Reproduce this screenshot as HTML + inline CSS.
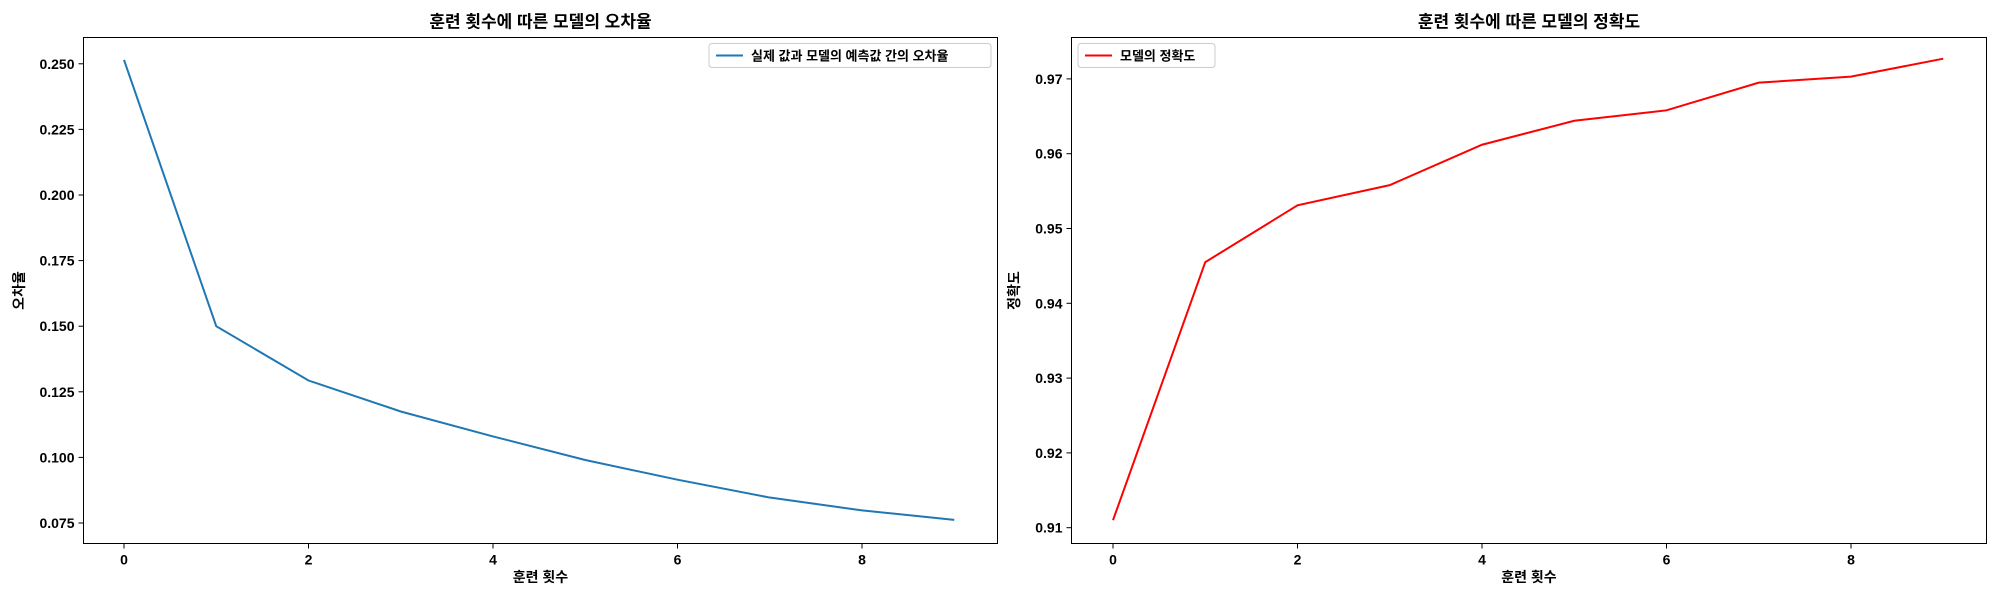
<!DOCTYPE html>
<html><head><meta charset="utf-8">
<style>
body{margin:0;background:#fff;}
svg{display:block;font-family:"Liberation Sans","Noto Sans CJK KR",sans-serif;font-weight:bold;}
</style></head>
<body>
<svg id="chart" width="2000" height="600" viewBox="0 0 2000 600"></svg>
<script>
const epochs = [0,1,2,3,4,5,6,7,8,9];
const lossValues = [0.2515,0.1500,0.1293,0.1175,0.1080,0.0990,0.0915,0.0847,0.0798,0.0762];
const accValues = [0.911,0.9455,0.9531,0.9558,0.9612,0.9644,0.9658,0.9695,0.9703,0.9727];
const xTicks = [0,2,4,6,8];
const lossTicks = [0.075,0.100,0.125,0.150,0.175,0.200,0.225,0.250];
const accTicks = [0.91,0.92,0.93,0.94,0.95,0.96,0.97];

const NS="http://www.w3.org/2000/svg";
const svg=document.getElementById('chart');
function el(tag,attrs,parent){const e=document.createElementNS(NS,tag);for(const k in attrs)e.setAttribute(k,attrs[k]);(parent||svg).appendChild(e);return e;}

function panel(cfg){
  const g=el('g',{});
  
  
  const {L,R,T,B}=cfg;
  const xs=v=>cfg.x0px+(v-0)*cfg.xUnit;
  const ys=v=>cfg.y0px-(v-cfg.y0)*cfg.yUnit;
  // ticks
  xTicks.forEach(t=>{
    const tl=el('line',{x1:xs(t),x2:xs(t),y1:B,y2:B+5,stroke:'#000','stroke-width':1},g);
    
    
    const tx=el('text',{x:xs(t),y:B+21,'font-size':14,'text-anchor':'middle'},g);
    tx.textContent=t;
    
    
  });
  cfg.yTicks.forEach(t=>{
    const tl=el('line',{x1:L-5,x2:L,y1:ys(t),y2:ys(t),stroke:'#000','stroke-width':1},g);
    
    
    const tx=el('text',{x:L-9,y:ys(t)+5,'font-size':14,'text-anchor':'end'},g);
    tx.textContent=t.toFixed(cfg.dec);
    
    
  });
  // line
  const pts=epochs.map((e,i)=>xs(e)+','+ys(cfg.values[i])).join(' ');
  const pl=el('polyline',{points:pts,fill:'none',stroke:cfg.color,'stroke-width':2},g);
  
  
  const fr=el('rect',{x:L,y:T,width:R-L,height:B-T,fill:'none',stroke:'#000','stroke-width':1},g);
  
  
  const ti=el('text',{x:(L+R)/2,y:T-10,'font-size':17,'text-anchor':'middle'},g);
  ti.textContent=cfg.title;
  
  
  const xl=el('text',{x:(L+R)/2,y:582,'font-size':14,'text-anchor':'middle'},g);
  xl.textContent='훈련 횟수';
  
  
  const yl=el('text',{x:0,y:0,'font-size':14,'text-anchor':'middle',transform:`translate(${cfg.ylx},${(T+B)/2}) rotate(-90)`},g);
  yl.textContent=cfg.ylabel;
  
  
  // legend
  const lg=el('g',{},g);
  
  
  el('rect',{x:cfg.lgX,y:T+6,width:cfg.lgW,height:24,rx:3,fill:'#fff',stroke:'#ccc','stroke-width':1},lg);
  el('line',{x1:cfg.lgX+7,x2:cfg.lgX+34,y1:T+18,y2:T+18,stroke:cfg.color,'stroke-width':2},lg);
  const lt=el('text',{x:cfg.lgX+42,y:T+23,'font-size':13},lg);
  lt.textContent=cfg.legend;
  
  
}

panel({name:'loss-panel',L:83.5,R:997.5,T:37.5,B:543.5,x0px:124,xUnit:92.25,y0:0.075,y0px:523,yUnit:65.6/0.025,
  yTicks:lossTicks,dec:3,values:lossValues,color:'#1f77b4',seriesName:'loss-line',
  title:'훈련 횟수에 따른 모델의 오차율',ylabel:'오차율',ylx:24,lgX:709,lgW:282,legend:'실제 값과 모델의 예측값 간의 오차율'});
panel({name:'accuracy-panel',L:1071.5,R:1986.5,T:37.5,B:543.5,x0px:1113,xUnit:92.25,y0:0.91,y0px:527.7,yUnit:74.8/0.01,
  yTicks:accTicks,dec:2,values:accValues,color:'#ff0000',seriesName:'accuracy-line',
  title:'훈련 횟수에 따른 모델의 정확도',ylabel:'정확도',ylx:1019,lgX:1078,lgW:137,legend:'모델의 정확도'});
</script>
</body></html>
